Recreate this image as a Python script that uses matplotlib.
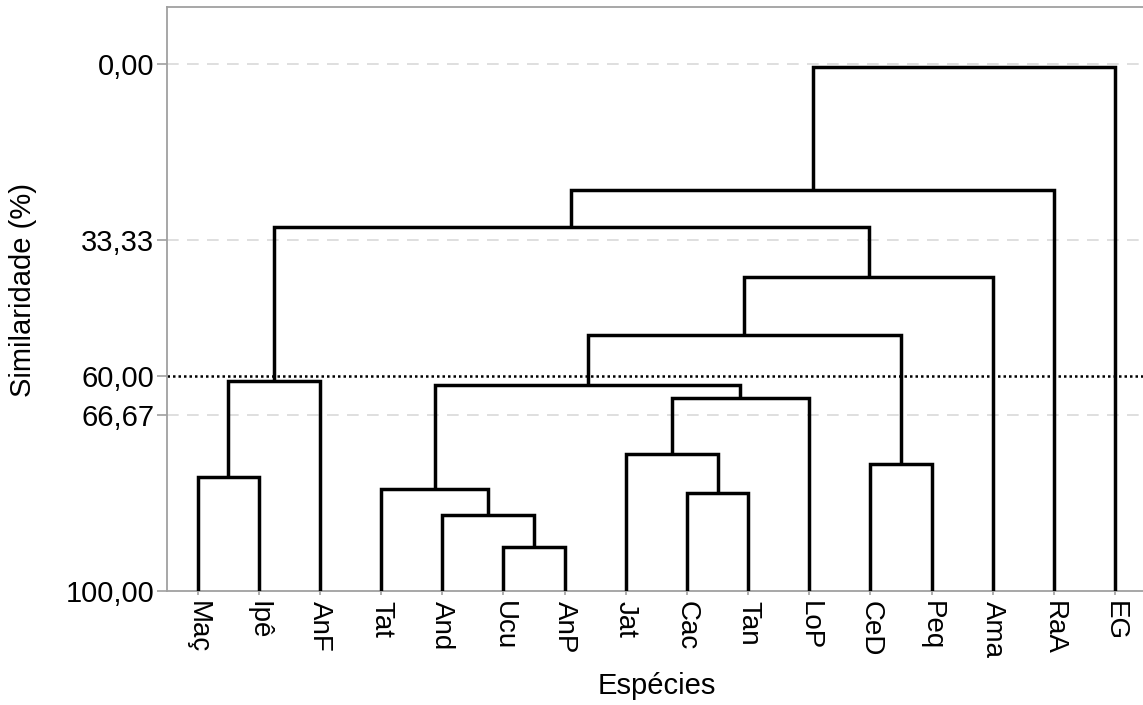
import matplotlib
matplotlib.use("Agg")
import matplotlib.pyplot as plt

plt.rcParams['font.family'] = ['Liberation Sans', 'DejaVu Sans']

# leaf order (left to right) and merge table: (left child, right child, similarity %)
species = ['Maç', 'Ipê', 'AnF', 'Tat', 'And', 'Ucu', 'AnP', 'Jat',
           'Cac', 'Tan', 'LoP', 'CeD', 'Peq', 'Ama', 'RaA', 'EG']
merge_left = ['Ucu', 'And', 'Tat', 'Cac', 'Jat', 'E', 'C', 'CeD',
              'G', 'I', 'Maç', 'K', 'L', 'M', 'N']
merge_right = ['AnP', 'A', 'B', 'Tan', 'D', 'LoP', 'F', 'Peq',
               'H', 'Ama', 'Ipê', 'AnF', 'J', 'RaA', 'EG']
merge_names = ['A', 'B', 'C', 'D', 'E', 'F', 'G', 'H',
               'I', 'J', 'K', 'L', 'M', 'N', 'O']
merge_sim = [91.6, 85.6, 80.6, 81.5, 74.0, 63.3, 60.9, 76.0,
             51.4, 40.5, 78.4, 60.1, 31.0, 24.0, 0.5]

cut_value = 59.3
ytick_vals = [0, 33.33, cut_value, 66.67, 100]
ytick_labels = ['0,00', '33,33', '60,00', '66,67', '100,00']
grid_vals = [0, 33.33, 66.67]

fig = plt.figure(figsize=(11.43, 7.05), dpi=100)
ax = fig.add_axes([0.1461, 0.1617, 0.8563, 0.8284])

# node positions: leaves at 0..n-1, clusters at the mean of their children
pos = {name: (i, 100.0) for i, name in enumerate(species)}
for name, l, r, h in zip(merge_names, merge_left, merge_right, merge_sim):
    xl, hl = pos[l]
    xr, hr = pos[r]
    ax.plot([xl, xl, xr, xr], [hl, h, h, hr], color='black', lw=2.5,
            solid_joinstyle='miter', solid_capstyle='butt', zorder=3)
    pos[name] = ((xl + xr) / 2, h)

for g in grid_vals:
    ax.axhline(g, color='#d9d9d9', lw=1.2, ls=(0, (7, 5)), zorder=1)
ax.axhline(cut_value, color='black', lw=1.8, ls=(0, (1, 1.2)), zorder=2)

ax.set_xlim(-0.5, len(species) - 0.5)
ax.set_ylim(100, -10.8)

ax.set_xticks(range(len(species)))
ax.set_xticklabels(species, rotation=270, fontsize=20, va='top', ha='center')
ax.set_yticks(ytick_vals)
ax.set_yticklabels(ytick_labels, fontsize=21)

ax.tick_params(axis='y', length=7, width=1.2, color='#a0a0a0', pad=2)
ax.tick_params(axis='x', length=3, width=1.2, color='#a0a0a0', pad=4)

for side in ['top', 'left', 'bottom', 'right']:
    ax.spines[side].set_color('#a0a0a0')
    ax.spines[side].set_linewidth(1.3)

ax.set_xlabel('Espécies', fontsize=21, labelpad=10)
ax.set_ylabel('Similaridade (%)', fontsize=21)
ax.yaxis.set_label_coords(-0.133, 0.515)

fig.savefig('out.png', dpi=100)
